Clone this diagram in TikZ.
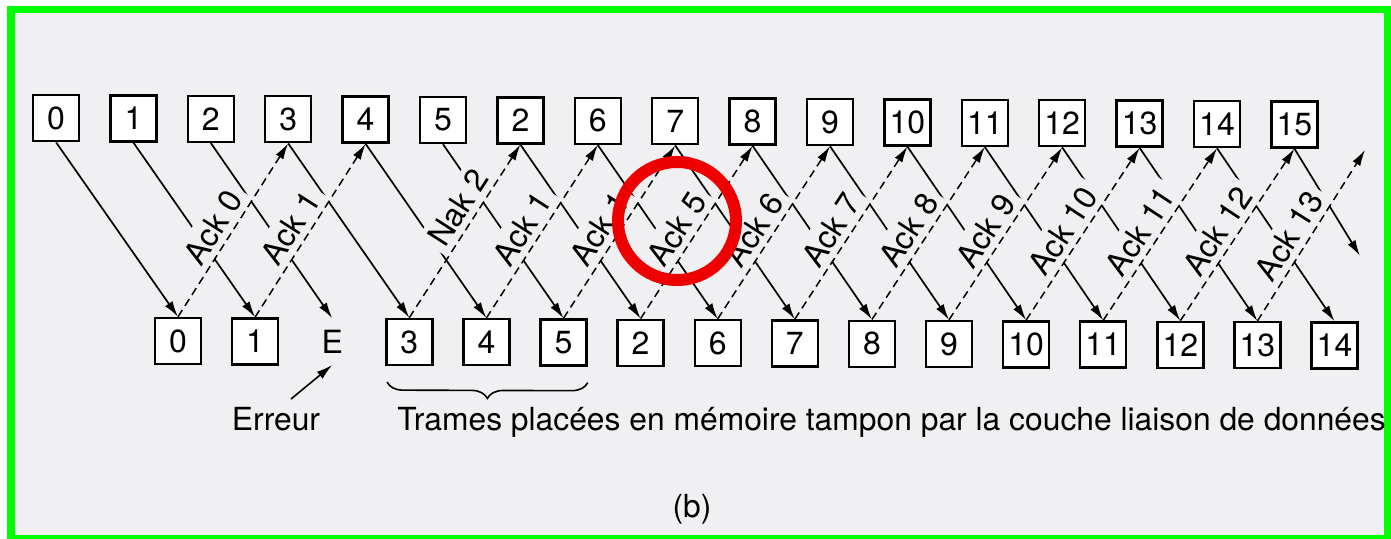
\documentclass[tikz,border=0pt]{standalone}
\usepackage{fontspec}
\setmainfont{TeX Gyre Heros}
\usetikzlibrary{arrows.meta,decorations.pathreplacing,calc}
\definecolor{framegreen}{RGB}{0,255,0}
\definecolor{bgpaper}{RGB}{240,240,243}
\definecolor{circred}{RGB}{238,0,0}
\begin{document}
\begin{tikzpicture}[x=0.5pt,y=-0.5pt,
  seqbox/.style={draw, line width=1.2pt, fill=white, minimum width=23pt, minimum height=23pt, inner sep=0pt, font=\fontsize{16}{16}\selectfont},
  errmark/.style={minimum width=23pt, minimum height=23pt, inner sep=0pt, font=\fontsize{16}{16}\selectfont},
  tip/.style={-{Latex[length=8pt,width=4.5pt]}},
  solidarrow/.style={tip, line width=0.85pt},
  ackline/.style={tip, line width=0.75pt, dash pattern=on 4pt off 2.5pt},
  acklabel/.style={sloped, above, inner sep=3pt, fill=bgpaper, font=\fontsize{16}{16}\selectfont},
  capt/.style={font=\fontsize{15.9}{16}\selectfont, inner sep=0pt}
]
\useasboundingbox (0,0) rectangle (1391,538);
\fill[white] (0,0) rectangle (1391,538);
\draw[framegreen, line width=3.75pt, fill=bgpaper] (11,9.5) rectangle (1388,539);

% top row (sender)
\foreach \lab [count=\i from 0] in {0,1,2,3,4,5,2,6,7,8,9,10,11,12,13,14,15}
  \node[seqbox] (t\i) at ({56+77.4*\i},{118+0.4*\i}) {\lab};

% bottom row (receiver)
\foreach \j/\lab in {0/0,1/1,3/3,4/4,5/5,6/2,7/6,8/7,9/8,10/9,11/10,12/11,13/12,14/13,15/14}
  \node[seqbox] (b\j) at ({178+77.1*\j},{341+0.3*\j}) {\lab};
\node[errmark] (b2) at ({178+77.1*2},{341+0.6}) {E};

\coordinate (t16end) at (1360,256);
\coordinate (b14end) at (1365,150);

% frames sent
\foreach \i in {0,...,15}
  \draw[solidarrow] (t\i.south) -- (b\i.north);
\draw[solidarrow] (t16.south) -- (t16end);

% acknowledgement labels
\foreach \j/\k/\lab in {0/3/Ack 0,1/4/Ack 1,4/7/Ack 1,5/8/Ack 1,6/9/Ack 5,7/10/Ack 6,8/11/Ack 7,9/12/Ack 8,10/13/Ack 9,11/14/Ack 10,12/15/Ack 11,13/16/Ack 12}
  \path (b\j.north) -- (t\k.south) node[acklabel, pos=0.46] {\lab};
\path (b3.north) -- (t6.south) node[acklabel, pos=0.58] {Nak 2};
\path (b14.north) -- (b14end) node[acklabel, pos=0.44] {Ack 13};

% acknowledgements
\foreach \j/\k in {0/3,1/4,3/6,4/7,5/8,6/9,7/10,8/11,9/12,10/13,11/14,12/15,13/16}
  \draw[ackline] (b\j.north) -- (t\k.south);
\draw[ackline] (b14.north) -- (b14end);

% error
\node[capt, anchor=base] (err) at (276,430) {Erreur};
\coordinate (errtail) at (291,399);
\draw[tip, line width=0.8pt] (errtail) -- (b2.south);

% buffered frames
\draw[decorate, decoration={brace, mirror, amplitude=8pt}, line width=0.8pt]
  ($(b3.south west)+(2,16)$) -- ($(b5.south east)+(0,16)$);
\node[capt, anchor=base west] (cap) at (397,430) {Trames placées en mémoire tampon par la couche liaison de données};

\node[capt, anchor=base] (blab) at (692,517) {(b)};

% highlight
\node[draw=circred, circle, line width=6pt, minimum size=59pt, inner sep=0pt] (hl) at (677,221) {};
\end{tikzpicture}
\end{document}
